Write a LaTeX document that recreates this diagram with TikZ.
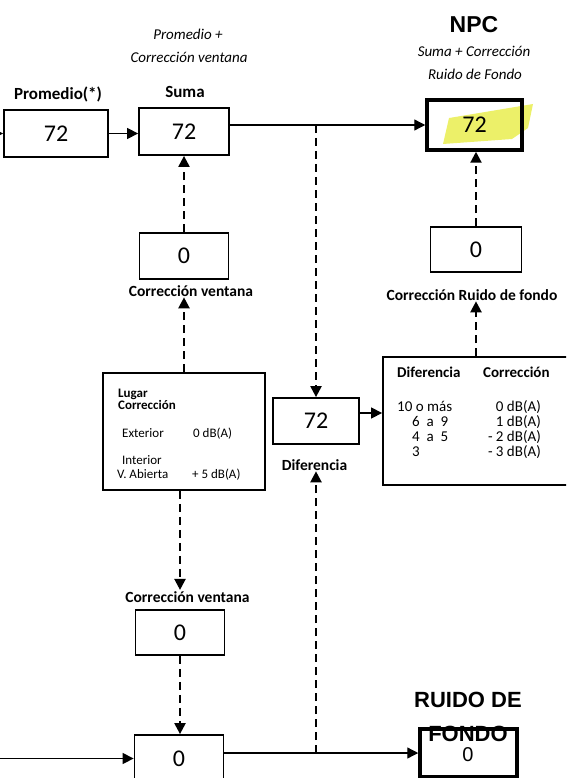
\documentclass[tikz,border=0pt]{standalone}
\usepackage{fontspec}
\setmainfont{Carlito}
\newfontfamily\arial{Liberation Sans}
\usetikzlibrary{arrows.meta}
\definecolor{resaltado}{RGB}{236,240,105}
\tikzset{
  caja/.style={draw, line width=1.8pt, inner sep=0pt, font=\fontsize{24}{28}\selectfont},
  cajagruesa/.style={caja, line width=3.5pt},
  etiqueta/.style={font=\bfseries\fontsize{17}{20}\selectfont, anchor=base, inner sep=1pt},
  etiquetab/.style={font=\bfseries\fontsize{15.5}{18}\selectfont, anchor=base, inner sep=1pt},
  nota/.style={font=\itshape\fontsize{15}{18}\selectfont, anchor=base, inner sep=0pt},
  titulo/.style={font=\arial\bfseries\fontsize{22}{26}\selectfont, anchor=base, inner sep=0pt},
  texto/.style={font=\fontsize{13}{15}\selectfont, anchor=base west, inner sep=0pt},
  textob/.style={texto, font=\bfseries\fontsize{13}{15}\selectfont},
  tabla/.style={font=\fontsize{15}{18}\selectfont, inner sep=0pt},
  flecha/.style={-{Triangle[length=11pt,width=11pt]}, line width=1.3pt},
  trazos/.style={flecha, line width=2.2pt, dash pattern=on 8pt off 5pt},
}
\begin{document}
\begin{tikzpicture}[x=1pt,y=-1pt]
\clip (0,0) rectangle (566,778);

% resaltado amarillo del NPC
\fill[resaltado] (443,144) -- (449,118) -- (533,104) -- (528,128) -- (512,139) -- cycle;

% fila superior
\node[caja, minimum width=104pt, minimum height=47pt] (prom) at (56,133.5) {72};
\node[caja, minimum width=90pt, minimum height=47pt] (suma) at (184,131.5) {72};
\node[cajagruesa, minimum width=95pt, minimum height=50pt] (npc) at (474.5,125) {72};

\node[etiqueta] (lprom) at (58,100) {Promedio(*)};
\node[etiqueta] (lsuma) at (185,98) {Suma};
\node[nota] (nsuma1) at (188,40) {Promedio +};
\node[nota] (nsuma2) at (189,63) {Corrección ventana};
\node[titulo, font=\arial\bfseries\fontsize{23}{26}\selectfont] (lnpc) at (474,33) {NPC};
\node[nota] (nnpc1) at (474,57) {Suma + Corrección};
\node[nota] (nnpc2) at (475,80) {Ruido de Fondo};

% correcciones
\node[caja, minimum width=89pt, minimum height=46pt] (cvup) at (184,256) {0};
\node[etiquetab] (lcvup) at (191,296) {Corrección ventana};
\node[caja, minimum width=91pt, minimum height=45pt] (crf) at (476,249.5) {0};
\node[etiquetab] (lcrf) at (472,300) {Corrección Ruido de fondo};

% lugar
\node[draw, line width=1.8pt, minimum width=162pt, minimum height=117pt] (lugar) at (184,431.5) {};
\node[textob] (lug1) at (118,397) {Lugar};
\node[textob] (lug2) at (118,409) {Corrección};
\node[texto] (ext) at (122,437) {Exterior};
\node[texto] (ext0) at (193,437) {0 dB(A)};
\node[texto] (int1) at (122,464) {Interior};
\node[texto] (int2) at (117,478) {V. Abierta};
\node[texto] (int5) at (192,478) {+ 5 dB(A)};

% diferencia
\node[caja, minimum width=86pt, minimum height=46pt] (dif) at (316,421) {72};
\node[etiquetab] (ldif) at (314.5,470) {Diferencia};

% tabla de correccion
\node[draw, line width=1.8pt, minimum width=197pt, minimum height=128pt] (tab) at (481.5,421) {};
\node[tabla, font=\bfseries\fontsize{15}{18}\selectfont, anchor=base west] (tdif) at (397,377) {Diferencia};
\node[tabla, font=\bfseries\fontsize{15}{18}\selectfont, anchor=base west] (tcor) at (483,377) {Corrección};
\foreach \x/\izq/\der/\y [count=\i] in {397/{10 o más}/{0 dB(A)}/411, 412/{6~~a~~9}/{1 dB(A)}/426,
  412/{4~~a~~5}/{- 2 dB(A)}/441, 412/{3}/{- 3 dB(A)}/456}
{
  \node[tabla, anchor=base west] (fila\i) at (\x,\y) {\izq};
  \node[tabla, anchor=base east] (corr\i) at (541,\y) {\der};
}

% fila inferior
\node[etiquetab] (lcvlow) at (187.5,602) {Corrección ventana};
\node[caja, minimum width=89pt, minimum height=45pt] (cvlow) at (180,632.5) {0};
\node[caja, minimum width=89pt, minimum height=47pt] (suml) at (179,758.5) {0};
\node[cajagruesa, minimum width=97pt, minimum height=48pt] (rf) at (468.5,753) {};
\node[titulo, font=\arial\fontsize{20}{24}\selectfont] (rf0) at (468,761) {0};
\node[titulo] (lrf1) at (468,707) {RUIDO DE};
\node[titulo] (lrf2) at (468,741) {FONDO};

% conexiones
\coordinate (entrada1) at (-20,133.5);
\coordinate (entrada2) at (-20,758.5);
\draw[flecha] (entrada1) -- (prom.west);
\draw[flecha] (prom.east) -- (prom.east -| suma.west);
\draw[flecha] (npc.west -| suma.east) -- (npc.west);
\coordinate (j1) at (dif.north |- npc.west);
\draw[trazos] (j1) -- (dif.north);
\draw[flecha] (dif.east |- 0,413) -- (tab.west |- 0,413);
\draw[trazos] (tab.north -| crf) -- (lcrf.south -| crf);
\draw[trazos] (crf.north) -- (crf.north |- npc.south);
\draw[trazos] (cvup.north) -- (suma.south);
\draw[trazos] (lugar.north) -- (lugar.north |- lcvup.south);
\draw[trazos] (lugar.south -| cvlow) -- (lcvlow.north -| cvlow);
\draw[trazos] (cvlow.south) -- (cvlow.south |- suml.north);
\draw[flecha] (entrada2) -- (suml.west);
\draw[flecha] (rf.west -| suml.east) -- (rf.west);
\coordinate (j2) at (dif.south |- rf.west);
\draw[trazos] (j2) -- (j2 |- ldif.south);

\end{tikzpicture}
\end{document}
